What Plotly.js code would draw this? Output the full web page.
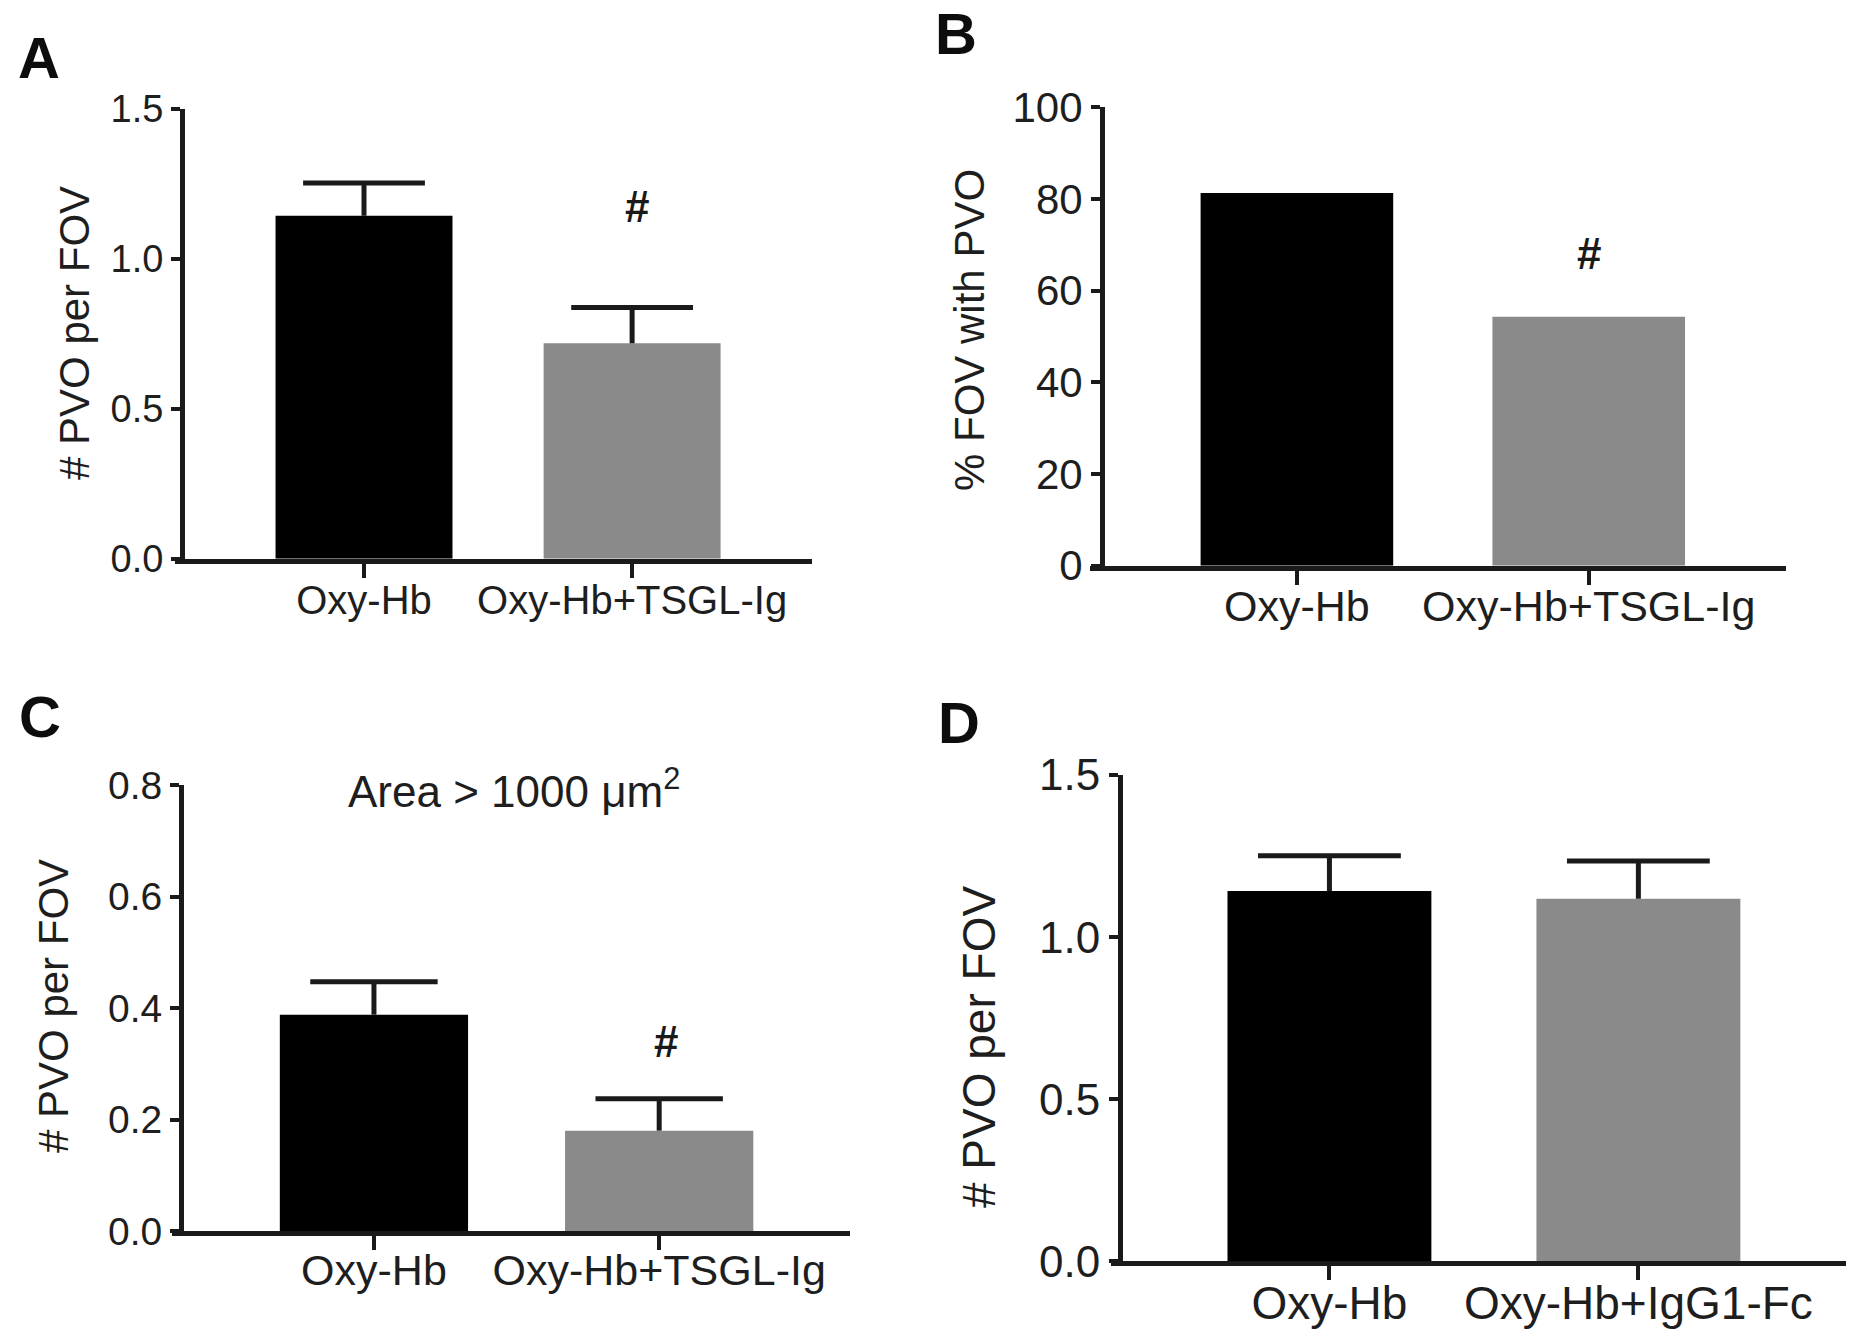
<!DOCTYPE html>
<html>
<head>
<meta charset="utf-8">
<script src="https://cdn.plot.ly/plotly-3.0.1.min.js"></script>
<style>
  html, body { margin: 0; padding: 0; background: #ffffff; }
  #chart { width: 1863px; height: 1337px; }
</style>
</head>
<body>
<div id="chart"></div>
<script>
// ---------------- DATA ----------------
const categoriesTSGL = ["Oxy-Hb", "Oxy-Hb+TSGL-Ig"];
const categoriesIgG = ["Oxy-Hb", "Oxy-Hb+IgG1-Fc"];

// Panel A: # PVO per FOV
const valuesA = [1.143, 0.718];
const errorsA = [0.109, 0.119];

// Panel B: % FOV with PVO
const valuesB = [81.3, 54.3];

// Panel C: # PVO per FOV, Area > 1000 um^2
const valuesC = [0.388, 0.180];
const errorsC = [0.059, 0.057];

// Panel D: # PVO per FOV
const valuesD = [1.142, 1.118];
const errorsD = [0.109, 0.117];

const barColors = ["#000000", "#8a8a8a"];

const titleA = "# PVO per FOV";
const titleB = "% FOV with PVO";
const titleC = "# PVO per FOV";
const titleD = "# PVO per FOV";
const panelLetters = ["A", "B", "C", "D"];
const noteC = "Area > 1000 μm<sup>2</sup>";
const sigMark = "#";

// ---------------- LAYOUT HELPERS ----------------
const W = 1863, H = 1337;
const fx = px => px / W;
const fy = py => 1 - py / H;
const TXT = "#1e1e1e";
const LINE = "#1a1a1a";
const FONT = "Liberation Sans, Arial, Helvetica, sans-serif";

const traces = [];

function addPanel(idx, cats, vals, errs, capSize) {
  const xa = idx === 1 ? "x" : "x" + idx;
  const ya = idx === 1 ? "y" : "y" + idx;
  const bar = {
    type: "bar", x: cats, y: vals, xaxis: xa, yaxis: ya,
    width: 0.66,
    marker: { color: barColors, line: { width: 0 } },
    hoverinfo: "skip"
  };
  if (errs) {
    bar.error_y = {
      type: "data", symmetric: false, array: errs, arrayminus: errs.map(() => 0),
      thickness: 5, width: 0, color: LINE
    };
  }
  traces.push(bar);
  if (errs) {
    traces.push({
      type: "scatter", mode: "markers", xaxis: xa, yaxis: ya,
      x: cats, y: vals.map((v, i) => v + errs[i]),
      marker: { symbol: "line-ew", size: capSize, color: LINE, line: { width: 5, color: LINE } },
      hoverinfo: "skip", cliponaxis: false
    });
  }
}

addPanel(1, categoriesTSGL, valuesA, errorsA, 87);
addPanel(2, categoriesTSGL, valuesB, null, 0);
addPanel(3, categoriesTSGL, valuesC, errorsC, 91);
addPanel(4, categoriesIgG, valuesD, errorsD, 102);

function xAxis(domPx, anchor, labelSize, rng, standoff) {
  return {
    domain: [fx(domPx[0]), fx(domPx[1])], anchor: anchor, type: "category",
    range: rng, showline: true, linewidth: 5, linecolor: LINE,
    ticks: "outside", ticklen: 14, tickwidth: 4, tickcolor: LINE,
    showgrid: false, zeroline: false, fixedrange: true,
    ticklabelstandoff: standoff,
    tickfont: { family: FONT, size: labelSize, color: TXT }
  };
}
function yAxis(domPy, posPx, range, dtick, fmt, tickSize) {
  return {
    domain: [fy(domPy[1]), fy(domPy[0])], anchor: "free", position: fx(posPx),
    range: range, showline: true, linewidth: 5, linecolor: LINE,
    ticks: "outside", ticklen: 9, tickwidth: 4, tickcolor: LINE,
    tickmode: "linear", tick0: 0, dtick: dtick, tickformat: fmt,
    showgrid: false, zeroline: false, fixedrange: true,
    tickfont: { family: FONT, size: tickSize, color: TXT }
  };
}

const annotations = [];
function paperText(text, xpx, ypx, size, opts) {
  annotations.push(Object.assign({
    text: text, xref: "paper", yref: "paper", x: fx(xpx), y: fy(ypx),
    xanchor: "center", yanchor: "middle", showarrow: false,
    font: { family: FONT, size: size, color: TXT }
  }, opts || {}));
}
const letterFont = { family: FONT, size: 58, color: "#0d0d0d" };
paperText("<b>" + panelLetters[0] + "</b>", 39, 57, 58, { font: letterFont });
paperText("<b>" + panelLetters[1] + "</b>", 956, 33, 58, { font: letterFont });
paperText("<b>" + panelLetters[2] + "</b>", 40, 716, 58, { font: letterFont });
paperText("<b>" + panelLetters[3] + "</b>", 959, 722, 58, { font: letterFont });
// y-axis titles
paperText(titleA, 74, 333, 42, { textangle: -90 });
paperText(titleB, 970, 330, 42, { textangle: -90 });
paperText(titleC, 54, 1006, 42, { textangle: -90 });
paperText(titleD, 979, 1047, 46, { textangle: -90 });
// note in panel C
paperText(noteC, 514, 789, 44);
// significance marks (data coordinates)
function sig(xa, ya, yv, size, xs) {
  annotations.push({
    text: "<b>" + sigMark + "</b>", xref: xa, yref: ya, x: 1, y: yv,
    xanchor: "center", yanchor: "middle", showarrow: false, xshift: xs,
    font: { family: FONT, size: size, color: "#1a1a1a" }
  });
}
sig("x", "y", 1.175, 44, 5);
sig("x2", "y2", 68, 44, 0);
sig("x3", "y3", 0.34, 44, 7);

const layout = {
  width: W, height: H,
  margin: { l: 0, r: 0, t: 0, b: 0, pad: 0 },
  paper_bgcolor: "#ffffff", plot_bgcolor: "rgba(0,0,0,0)",
  showlegend: false, hovermode: false,
  font: { family: FONT, color: TXT },
  xaxis: xAxis([175, 812], "y", 40, [-0.705, 1.671], -12),
  yaxis: yAxis([108.6, 558.8], 182, [0, 1.5], 0.5, ".1f", 38),
  xaxis2: xAxis([1090, 1786], "y2", 43, [-0.709, 1.676], -15),
  yaxis2: yAxis([107.3, 565.7], 1102, [0, 100], 20, "d", 42),
  xaxis3: xAxis([172, 850], "y3", 43, [-0.708, 1.669], -17),
  yaxis3: yAxis([785, 1231], 181, [0, 0.8], 0.2, ".1f", 39),
  xaxis4: xAxis([1111, 1846], "y4", 46, [-0.707, 1.672], -17),
  yaxis4: yAxis([775, 1261.4], 1120, [0, 1.5], 0.5, ".1f", 44),
  annotations: annotations
};

Plotly.newPlot("chart", traces, layout, { staticPlot: true, displayModeBar: false });
</script>
</body>
</html>
